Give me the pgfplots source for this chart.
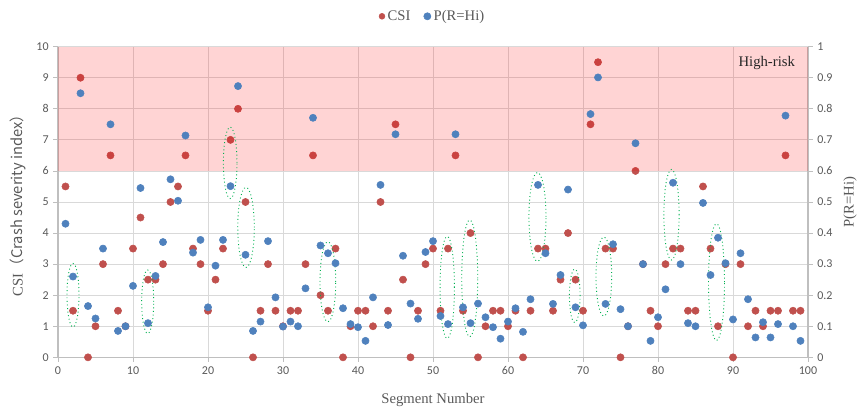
\documentclass[border=0pt]{standalone}
\usepackage{pgfplots}
\pgfplotsset{compat=1.18}
\usepackage{pgfplotstable}
\usepackage{fontspec}
\setmainfont{Liberation Serif}
\newfontfamily\tickfont{Carlito}
\newfontfamily\cjk{Noto Sans CJK SC}
\definecolor{csired}{HTML}{C0504D}
\definecolor{pblue}{HTML}{4F81BD}
\definecolor{txtgray}{HTML}{595959}
\definecolor{gridgray}{HTML}{D9D9D9}
\definecolor{axgray}{HTML}{BFBFBF}
\definecolor{ellgreen}{HTML}{00B050}

\pgfplotstableread{
seg csi
1 5.5
2 1.5
3 9
4 0
5 1
6 3
7 6.5
8 1.5
9 1
10 3.5
11 4.5
12 2.5
13 2.5
14 3
15 5
16 5.5
17 6.5
18 3.5
19 3
20 1.5
21 2.5
22 3.5
23 7
24 8
25 5
26 0
27 1.5
28 3
29 1.5
30 1
31 1.5
32 1.5
33 3
34 6.5
35 2
36 1.5
37 3.5
38 0
39 1
40 1.5
41 1.5
42 1
43 5
44 1.5
45 7.5
46 2.5
47 0
48 1.5
49 3
50 3.5
51 1.5
52 3.5
53 6.5
54 1.5
55 4
56 0
57 1
58 1.5
59 1.5
60 1
61 1.5
62 0
63 1.5
64 3.5
65 3.5
66 1.5
67 2.5
68 4
69 2.5
70 1.5
71 7.5
72 9.5
73 3.5
74 3.5
75 0
76 1
77 6
78 3
79 1.5
80 1
81 3
82 3.5
83 3.5
84 1.5
85 1.5
86 5.5
87 3.5
88 1
89 3
90 0
91 3
92 1
93 1.5
94 1
95 1.5
96 1.5
97 6.5
98 1.5
99 1.5
}\csidata

\pgfplotstableread{
seg p
1 0.43
2 0.26
3 0.85
4 0.165
5 0.125
6 0.35
7 0.75
8 0.085
9 0.1
10 0.23
11 0.545
12 0.11
13 0.262
14 0.371
15 0.573
16 0.504
17 0.714
18 0.337
19 0.378
20 0.161
21 0.295
22 0.378
23 0.551
24 0.873
25 0.33
26 0.085
27 0.115
28 0.374
29 0.193
30 0.099
31 0.115
32 0.1
33 0.222
34 0.771
35 0.36
36 0.335
37 0.303
38 0.158
39 0.107
40 0.097
41 0.053
42 0.193
43 0.555
44 0.104
45 0.718
46 0.327
47 0.173
48 0.124
49 0.339
50 0.374
51 0.133
52 0.107
53 0.718
54 0.161
55 0.11
56 0.173
57 0.129
58 0.097
59 0.06
60 0.115
61 0.158
62 0.082
63 0.187
64 0.555
65 0.335
66 0.172
67 0.265
68 0.54
69 0.161
70 0.103
71 0.783
72 0.901
73 0.172
74 0.364
75 0.155
76 0.1
77 0.689
78 0.3
79 0.053
80 0.129
81 0.219
82 0.562
83 0.3
84 0.11
85 0.1
86 0.497
87 0.265
88 0.385
89 0.303
90 0.122
91 0.335
92 0.187
93 0.064
94 0.113
95 0.064
96 0.107
97 0.778
98 0.1
99 0.053
}\pdata

\begin{document}
\begin{tikzpicture}
\pgfplotsset{
 common/.style={
  scale only axis, width=562.5pt, height=233pt,
  xmin=0, xmax=100,
  tick label style={font=\tickfont\fontsize{9}{10}\selectfont, text=txtgray},
  /pgf/number format/assume math mode=true,
  label style={font=\fontsize{11}{12}\selectfont, text=txtgray},
  tick style={axgray, line width=0.6pt},
  axis line style={axgray, line width=0.8pt},
  major tick length=3.5pt,
  tick align=outside,
 }
}
\begin{axis}[common,
  ymin=0, ymax=10,
  axis x line*=bottom, axis y line*=left,
  xtick={0,10,...,100}, ytick={0,1,...,10},
  grid=major, major grid style={gridgray, line width=0.6pt},
  xlabel={Segment Number},
  xlabel style={at={(axis description cs:0.5,-0.1375)}, anchor=center},
  ylabel={CSI\cjk{（}Crash severity index\cjk{）}},
  ylabel style={at={(axis description cs:-0.0533,0.5)}, anchor=center},
]
\coordinate (sw) at (rel axis cs:0,0);
\coordinate (ne) at (rel axis cs:1,1);
\addplot[only marks, mark=*, mark size=2.7pt, mark options={draw=csired, fill=csired}] table[x=seg, y=csi]{\csidata};
\end{axis}
\begin{axis}[common,
  ymin=0, ymax=1,
  axis x line=none, axis y line*=right,
  ytick={0,0.1,0.2,0.3,0.4,0.5,0.6,0.7,0.8,0.9,1},
  ylabel={P(R=Hi)},
  ylabel style={at={(axis description cs:1.056,0.5)}, anchor=center},
  legend style={at={(0.5,1)}, anchor=south, yshift=14pt, draw=none, fill=none,
    legend columns=2, font=\fontsize{11}{12}\selectfont, text=txtgray,
    /tikz/every even column/.append style={column sep=8pt}},
  legend cell align=left,
]
\addlegendimage{only marks, mark=*, mark size=2.2pt, mark options={draw=csired, fill=csired}}
\addlegendentry{CSI}
\addplot[only marks, mark=*, mark size=2.7pt, mark options={draw=pblue, fill=pblue}] table[x=seg, y=p]{\pdata};
\addlegendentry{P(R=Hi)}
\fill[red, fill opacity=0.17] (rel axis cs:0,0.6) rectangle (rel axis cs:1,1);
\node[font=\fontsize{11}{12}\selectfont, text=black!85] at (rel axis cs:0.945,0.947) {High-risk};
\begin{scope}[ellgreen, dotted, line width=0.7pt]
\draw (rel axis cs:0.02,0.20) ellipse [x radius=4.5pt, y radius=23.8pt];
\draw (rel axis cs:0.1196,0.179) ellipse [x radius=4.5pt, y radius=23.8pt];
\draw (rel axis cs:0.2296,0.626) ellipse [x radius=5.1pt, y radius=26.8pt];
\draw (rel axis cs:0.2507,0.418) ellipse [x radius=6.2pt, y radius=30pt];
\draw (rel axis cs:0.3598,0.243) ellipse [x radius=5.9pt, y radius=30pt];
\draw (rel axis cs:0.519,0.225) ellipse [x radius=5.4pt, y radius=38.2pt];
\draw (rel axis cs:0.549,0.254) ellipse [x radius=6pt, y radius=43.8pt];
\draw (rel axis cs:0.6393,0.452) ellipse [x radius=6.4pt, y radius=33.3pt];
\draw (rel axis cs:0.689,0.198) ellipse [x radius=4pt, y radius=20pt];
\draw (rel axis cs:0.7278,0.26) ellipse [x radius=5.9pt, y radius=29.6pt];
\draw (rel axis cs:0.818,0.459) ellipse [x radius=5.7pt, y radius=34pt];
\draw (rel axis cs:0.878,0.242) ellipse [x radius=6pt, y radius=43.8pt];
\end{scope}
\end{axis}
\pgfresetboundingbox
\path ([shift={(-43.5pt,-39.5pt)}]sw) rectangle ([shift={(37.5pt,35pt)}]ne);
\end{tikzpicture}
\end{document}
